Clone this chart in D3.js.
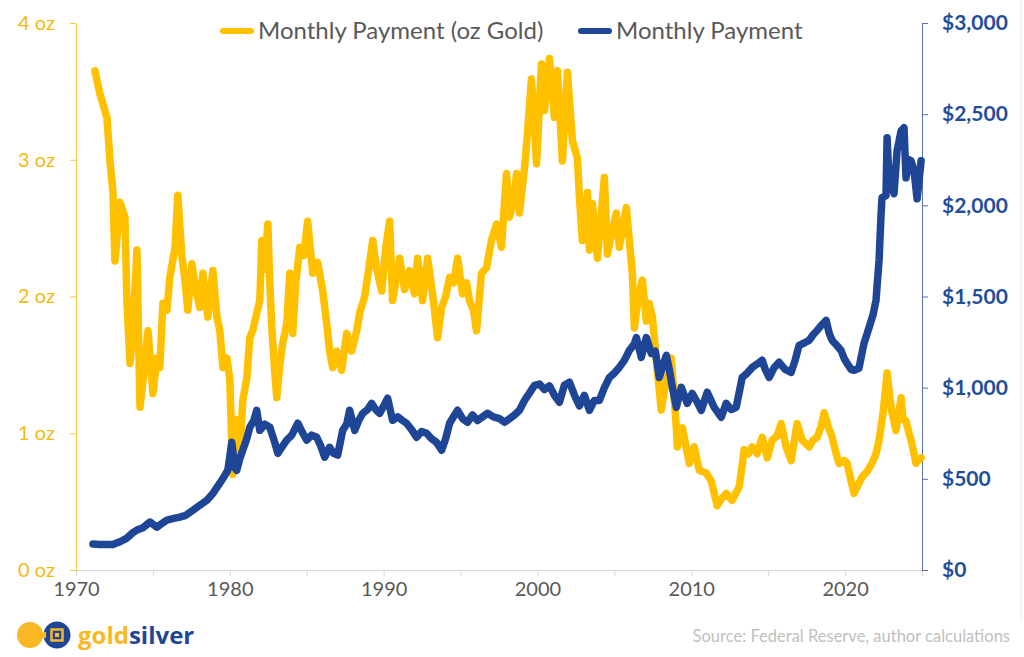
<!DOCTYPE html>
<html>
<head>
<meta charset="utf-8">
<script src="https://cdn.jsdelivr.net/npm/d3@7"></script>
<style>
  body { margin: 0; background: #fff; }
  svg { display: block; font-family: Lato, "Open Sans", sans-serif; }
</style>
</head>
<body>
<div id="viz"></div>
<script>
// monthly payment expressed in ounces of gold
const goldDates = [1971.23,1971.56,1972.01,1972.21,1972.40,1972.53,1972.86,1973.18,1973.31,1973.51,1973.70,1973.96,1974.16,1974.42,1974.68,1975.0,1975.26,1975.45,1975.65,1975.91,1976.10,1976.43,1976.62,1976.88,1977.08,1977.27,1977.53,1977.79,1978.05,1978.25,1978.57,1978.90,1979.16,1979.35,1979.55,1979.81,1980.0,1980.19,1980.39,1980.65,1980.84,1981.10,1981.30,1981.49,1981.69,1981.95,1982.08,1982.27,1982.47,1982.60,1982.73,1982.92,1983.05,1983.25,1983.44,1983.70,1983.90,1984.09,1984.29,1984.55,1984.81,1985.06,1985.39,1985.71,1986.04,1986.30,1986.49,1986.69,1986.95,1987.27,1987.60,1987.92,1988.25,1988.44,1988.77,1989.03,1989.29,1989.55,1989.87,1990.13,1990.39,1990.58,1990.78,1991.04,1991.36,1991.69,1992.01,1992.21,1992.53,1992.86,1993.18,1993.51,1993.77,1994.03,1994.29,1994.55,1994.81,1995.13,1995.39,1995.58,1995.84,1996.04,1996.36,1996.69,1997.01,1997.34,1997.66,1997.99,1998.18,1998.44,1998.64,1998.83,1999.16,1999.35,1999.61,1999.94,2000.26,2000.45,2000.78,2001.10,2001.30,2001.62,2001.95,2002.27,2002.60,2002.73,2002.92,2003.25,2003.38,2003.57,2003.90,2004.35,2004.55,2004.81,2005.13,2005.32,2005.78,2005.97,2006.17,2006.30,2006.56,2006.82,2007.08,2007.27,2007.47,2007.60,2007.73,2008.05,2008.38,2008.70,2009.03,2009.09,2009.42,2009.87,2010.19,2010.52,2010.97,2011.30,2011.49,2011.69,2011.95,2012.27,2012.66,2013.12,2013.44,2013.70,2013.96,2014.29,2014.61,2014.94,2015.26,2015.58,2015.84,2016.17,2016.49,2016.88,2017.21,2017.66,2017.92,2018.18,2018.44,2018.64,2018.90,2019.16,2019.42,2019.61,2019.94,2020.13,2020.39,2020.58,2020.84,2021.10,2021.43,2021.75,2022.01,2022.21,2022.47,2022.73,2022.92,2023.05,2023.31,2023.64,2023.77,2023.96,2024.16,2024.29,2024.48,2024.61,2024.74,2024.94];
const goldOz = [3.65,3.48,3.31,2.99,2.77,2.26,2.69,2.58,1.97,1.51,1.75,2.34,1.19,1.45,1.75,1.29,1.55,1.48,1.95,1.90,2.14,2.35,2.74,2.30,2.12,1.90,2.24,2.05,1.92,2.17,1.85,2.19,1.85,1.75,1.48,1.55,1.39,0.70,1.10,0.85,1.24,1.40,1.70,1.75,1.85,1.97,2.41,2.20,2.53,2.10,1.77,1.45,1.26,1.50,1.66,1.80,2.17,1.73,2.10,2.36,2.30,2.55,2.17,2.25,2.04,1.80,1.60,1.48,1.60,1.46,1.73,1.60,1.75,1.88,2.00,2.20,2.41,2.20,2.04,2.35,2.55,1.97,2.10,2.28,2.05,2.19,2.02,2.28,1.97,2.28,2.02,1.70,1.92,2.00,2.14,2.10,2.28,2.02,2.10,1.97,1.90,1.75,2.17,2.21,2.41,2.53,2.36,2.90,2.58,2.70,2.90,2.61,2.94,3.19,3.59,2.97,3.70,3.36,3.74,3.31,3.65,2.99,3.64,3.14,3.01,2.72,2.41,2.76,2.34,2.68,2.28,2.87,2.31,2.45,2.61,2.36,2.65,2.41,2.17,1.77,2.00,2.12,1.82,1.95,1.85,1.70,1.53,1.17,1.40,1.55,1.04,0.90,1.04,0.78,0.90,0.73,0.71,0.65,0.56,0.47,0.52,0.56,0.51,0.61,0.88,0.85,0.90,0.85,0.97,0.82,0.95,0.98,1.07,0.90,0.80,1.07,0.95,0.90,0.95,0.97,1.05,1.15,1.05,0.97,0.85,0.78,0.80,0.78,0.65,0.56,0.62,0.68,0.72,0.78,0.85,0.95,1.15,1.44,1.25,1.15,1.02,1.26,1.10,1.09,1.00,0.95,0.85,0.78,0.80,0.82];

// monthly payment in dollars
const payDates = [1971.10,1971.56,1972.40,1972.86,1973.31,1973.70,1973.96,1974.35,1974.81,1975.26,1975.58,1975.91,1976.36,1976.75,1977.14,1977.60,1978.05,1978.51,1978.90,1979.35,1979.68,1979.87,1980.13,1980.32,1980.45,1980.65,1980.84,1981.10,1981.30,1981.56,1981.75,1981.95,1982.27,1982.60,1982.92,1983.12,1983.44,1983.70,1984.03,1984.42,1984.68,1985.0,1985.32,1985.65,1985.91,1986.17,1986.49,1986.75,1987.01,1987.34,1987.60,1987.79,1988.12,1988.38,1988.64,1988.96,1989.22,1989.48,1989.74,1990.0,1990.26,1990.58,1990.91,1991.23,1991.49,1991.82,1992.14,1992.47,1992.79,1993.12,1993.44,1993.77,1994.03,1994.29,1994.61,1994.81,1995.13,1995.45,1995.78,1996.10,1996.43,1996.75,1997.14,1997.53,1997.86,1998.18,1998.51,1998.83,1999.16,1999.48,1999.81,2000.13,2000.45,2000.78,2001.10,2001.43,2001.75,2002.08,2002.40,2002.73,2003.05,2003.38,2003.70,2004.03,2004.35,2004.68,2005.0,2005.32,2005.65,2005.97,2006.30,2006.43,2006.75,2007.08,2007.40,2007.66,2007.92,2008.18,2008.38,2008.57,2008.77,2009.03,2009.35,2009.74,2010.06,2010.39,2010.65,2011.04,2011.49,2011.95,2012.27,2012.60,2012.92,2013.31,2013.64,2013.96,2014.29,2014.61,2014.81,2015.06,2015.39,2015.71,2016.10,2016.49,2016.75,2017.01,2017.34,2017.66,2017.92,2018.18,2018.44,2018.77,2018.96,2019.16,2019.48,2019.74,2019.94,2020.13,2020.39,2020.58,2020.90,2021.23,2021.56,2021.82,2022.01,2022.21,2022.34,2022.40,2022.66,2022.73,2022.86,2023.05,2023.18,2023.38,2023.64,2023.83,2023.96,2024.16,2024.29,2024.48,2024.68,2024.94];
const payUsd = [142,140,140,155,175,205,219,232,263,235,255,274,283,290,300,328,355,383,420,476,520,547,700,560,547,610,657,720,783,820,876,766,800,783,700,640,680,712,740,805,760,712,740,728,680,619,673,640,630,766,800,876,766,820,859,880,914,880,859,900,942,821,840,820,805,770,728,760,750,720,700,657,720,805,850,876,830,810,850,820,840,860,840,830,810,830,850,876,930,970,1013,1020,990,1010,958,920,1013,1030,960,900,958,876,930,930,1000,1056,1080,1111,1150,1204,1240,1275,1166,1275,1188,1200,1056,1130,1177,1100,1002,892,1002,914,969,920,876,975,892,838,914,880,892,1056,1080,1111,1130,1150,1100,1056,1110,1139,1100,1084,1150,1232,1245,1259,1290,1314,1340,1369,1300,1259,1230,1204,1160,1133,1100,1095,1106,1243,1330,1400,1480,1700,1954,2042,2053,2370,2135,2100,2064,2299,2408,2425,2151,2250,2244,2190,2036,2244];

const ozTicks = [0, 1, 2, 3, 4];
const usdTicks = [0, 500, 1000, 1500, 2000, 2500, 3000];
const yearTicks = [1970, 1975, 1980, 1985, 1990, 1995, 2000, 2005, 2010, 2015, 2020, 2025];
const yearLabels = [1970, 1980, 1990, 2000, 2010, 2020];

const gold = '#FFC000';
const blue = '#1F4696';

const width = 1024;
const height = 657;
const margin = {top: 23, right: 102, bottom: 87, left: 76};

const svg = d3.select('#viz')
  .append('svg')
  .attr('width', width)
  .attr('height', height);

// faint frame line at the right edge, as in the original image
svg.append('line')
  .attr('x1', 1021).attr('x2', 1021).attr('y1', 0).attr('y2', 622)
  .attr('stroke', '#e8e8e8').attr('stroke-width', 1);

const x = d3.scaleLinear().domain([1970, 2025]).range([margin.left, width - margin.right]);
const yOz = d3.scaleLinear().domain([0, 4]).range([height - margin.bottom, margin.top]);
const yUsd = d3.scaleLinear().domain([0, 3000]).range([height - margin.bottom, margin.top]);

// x axis
const xAxis = svg.append('g')
  .attr('transform', `translate(0,${height - margin.bottom})`)
  .call(d3.axisBottom(x).tickValues(yearTicks).tickSize(6).tickFormat(d => yearLabels.includes(d) ? d : ''));
xAxis.select('.domain').attr('stroke', '#d9d9d9');
xAxis.selectAll('.tick line').attr('stroke', '#d9d9d9');
xAxis.selectAll('.tick text')
  .attr('dy', '0.6em')
  .attr('y', 14)
  .attr('fill', '#595959')
  .style('font-size', '20px');

// left axis (ounces)
const leftAxis = svg.append('g')
  .attr('transform', `translate(${margin.left},0)`)
  .call(d3.axisLeft(yOz).tickValues(ozTicks).tickSize(6).tickSizeOuter(0).tickFormat(d => d + ' oz'));
leftAxis.select('.domain').attr('stroke', '#f5c84a');
leftAxis.selectAll('.tick line').attr('stroke', '#f5c84a');
leftAxis.selectAll('.tick text')
  .attr('x', -21)
  .attr('fill', '#F5B90F')
  .style('font-size', '20px');

// right axis (dollars)
const rightAxis = svg.append('g')
  .attr('transform', `translate(${width - margin.right},0)`)
  .call(d3.axisRight(yUsd).tickValues(usdTicks).tickSize(6).tickSizeOuter(0).tickFormat(d => '$' + d3.format(',')(d)));
rightAxis.select('.domain').attr('stroke', '#5b6fa8');
rightAxis.selectAll('.tick line').attr('stroke', '#5b6fa8');
rightAxis.selectAll('.tick text')
  .attr('x', 20)
  .attr('fill', '#1F4E9A')
  .style('font-size', '21px')
  .style('font-weight', 'bold');

svg.selectAll('.tick text').style('font-family', 'Lato, sans-serif');

// lines
const goldLine = d3.line().x((d, i) => x(goldDates[i])).y(d => yOz(d));
const payLine = d3.line().x((d, i) => x(payDates[i])).y(d => yUsd(d));

svg.append('path')
  .datum(goldOz)
  .attr('d', goldLine)
  .attr('fill', 'none')
  .attr('stroke', gold)
  .attr('stroke-width', 7.5)
  .attr('stroke-linejoin', 'round')
  .attr('stroke-linecap', 'round');

svg.append('path')
  .datum(payUsd)
  .attr('d', payLine)
  .attr('fill', 'none')
  .attr('stroke', blue)
  .attr('stroke-width', 7.5)
  .attr('stroke-linejoin', 'round')
  .attr('stroke-linecap', 'round');

// legend
const legend = [
  {label: 'Monthly Payment (oz Gold)', color: gold, x: 223},
  {label: 'Monthly Payment', color: blue, x: 581}
];
const lg = svg.append('g').selectAll('g').data(legend).join('g')
  .attr('transform', d => `translate(${d.x},31)`);
lg.append('line')
  .attr('x1', 0).attr('x2', 28)
  .attr('stroke', d => d.color)
  .attr('stroke-width', 6)
  .attr('stroke-linecap', 'round');
lg.append('text')
  .attr('x', 35)
  .attr('dy', '0.35em')
  .attr('fill', '#595959')
  .style('font-size', '24px')
  .text(d => d.label);

// source
svg.append('text')
  .attr('x', 1010)
  .attr('y', 642)
  .attr('text-anchor', 'end')
  .attr('fill', '#bfbfbf')
  .style('font-size', '16.5px')
  .text('Source: Federal Reserve, author calculations');

// logo
const logo = svg.append('g');
logo.append('circle').attr('cx', 30).attr('cy', 635).attr('r', 13).attr('fill', '#F9B823');
logo.append('circle').attr('cx', 57).attr('cy', 635).attr('r', 13.5).attr('fill', '#1F4696');
logo.append('rect').attr('x', 38).attr('y', 632).attr('width', 8).attr('height', 6).attr('fill', '#F9B823');
logo.append('rect').attr('x', 51.5).attr('y', 629.5).attr('width', 11).attr('height', 11)
  .attr('fill', 'none').attr('stroke', '#F9B823').attr('stroke-width', 2.5);
logo.append('rect').attr('x', 55).attr('y', 633).attr('width', 4).attr('height', 4).attr('fill', '#F9B823');
const logoText = logo.append('text')
  .attr('x', 78)
  .attr('y', 644)
  .style('font-size', '24px')
  .style('font-weight', 'bold')
  .style('font-family', '"Open Sans", sans-serif');
logoText.append('tspan').attr('fill', '#F9B823').text('gold');
logoText.append('tspan').attr('fill', '#1F4696').text('silver');
</script>
</body>
</html>
